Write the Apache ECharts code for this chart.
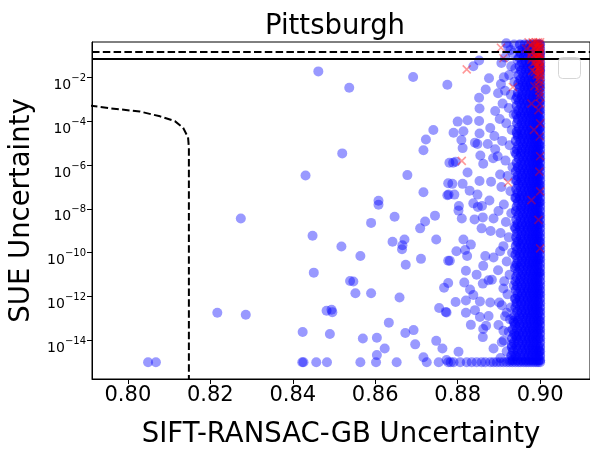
<!DOCTYPE html>
<html>
<head>
<meta charset="utf-8">
<script src="https://cdn.jsdelivr.net/npm/echarts@6/dist/echarts.min.js"></script>
<style>
  html, body { margin: 0; padding: 0; background: #fff; }
  #chart { width: 590px; height: 454px; }
</style>
</head>
<body>
<div id="chart"></div>
<script>
// y values are stored as log10(SUE uncertainty)
const xTicks = [0.80, 0.82, 0.84, 0.86, 0.88, 0.90];
const yTicks = [-14, -12, -10, -8, -6, -4, -2];

// scattered blue points, left and middle of the plot
const sparsePts = [
  [0.8049,-15.0],[0.8068,-15.0],[0.8217,-12.74],[0.8286,-12.83],[0.8274,-8.44],[0.8462,-1.73],
  [0.8537,-2.48],[0.8520,-5.47],[0.8431,-6.48],[0.8448,-9.23],[0.8518,-9.72],[0.8451,-10.91],
  [0.8539,-11.29],[0.8482,-12.65],[0.8494,-12.6],[0.8496,-12.71],[0.8424,-13.62],[0.8490,-13.71],
  [0.8423,-15.0],[0.8426,-15.0],[0.8457,-15.0],[0.8483,-15.0],
  [0.8692,-1.99],[0.8775,-2.34],[0.8741,-4.4],[0.8723,-4.84],[0.8717,-5.33],[0.8780,-5.9],
  [0.8678,-6.46],[0.8717,-7.24],[0.8777,-6.83],[0.8775,-7.38],[0.8608,-7.63],[0.8608,-7.81],
  [0.8647,-8.36],[0.8590,-8.64],[0.8721,-8.58],[0.8745,-8.31],[0.8709,-8.89],[0.8642,-9.5],
  [0.8671,-9.4],[0.8666,-9.66],[0.8665,-9.84],[0.8748,-9.4],[0.8564,-10.15],[0.8674,-10.55],
  [0.8711,-10.28],[0.8777,-10.37],[0.8547,-11.31],[0.8552,-11.85],[0.8590,-11.85],[0.8659,-12.04],
  [0.8767,-11.6],[0.8777,-11.38],[0.8755,-12.52],[0.8771,-12.7],[0.8773,-12.73],[0.8633,-13.19],
  [0.8570,-13.91],[0.8604,-13.88],[0.8673,-13.66],[0.8693,-13.53],[0.8623,-14.37],[0.8697,-14.18],
  [0.8748,-14.02],[0.8763,-14.37],[0.8604,-14.67],[0.8564,-15.0],[0.8602,-15.0],[0.8652,-15.0],
  [0.8717,-14.77],[0.8725,-15.0],[0.8754,-15.0],[0.8773,-14.89],[0.8777,-15.0]
];

// blue points just left of the dense band
const nearPts = [
  [0.8838,-1.5],[0.8852,-1.23],[0.8906,-1.35],[0.8930,-1.5],[0.8876,-2.04],[0.8868,-2.56],
  [0.8852,-2.93],[0.8853,-3.42],[0.8891,-3.54],[0.8905,-2.31],[0.8898,-2.73],[0.8915,-2.61],
  [0.8800,-4.02],[0.8824,-3.96],[0.8852,-3.99],[0.8879,-4.31],[0.8790,-4.53],[0.8814,-4.46],
  [0.8853,-4.56],[0.8809,-4.86],[0.8842,-4.98],[0.8848,-5.04],[0.8873,-5.04],[0.8812,-5.23],
  [0.8889,-4.68],[0.8891,-5.28],[0.8855,-5.57],[0.8789,-5.9],[0.8795,-5.85],[0.8862,-5.94],
  [0.8886,-5.69],[0.8824,-6.34],[0.8853,-6.73],[0.8787,-6.86],[0.8812,-6.86],[0.8881,-6.76],
  [0.8903,-6.43],[0.8778,-7.35],[0.8792,-7.35],[0.8829,-7.17],[0.8848,-7.35],[0.8877,-7.62],
  [0.8803,-7.87],[0.8838,-7.75],[0.8849,-7.91],[0.8859,-7.87],[0.8802,-8.08],[0.8810,-8.44],
  [0.8841,-8.48],[0.8861,-8.39],[0.8887,-8.44],[0.8858,-8.89],[0.8880,-9.01],[0.8814,-9.4],
  [0.8832,-9.63],[0.8797,-9.93],[0.8818,-9.88],[0.8781,-10.37],[0.8823,-10.15],[0.8867,-10.15],
  [0.8887,-10.22],[0.8903,-9.93],[0.8820,-10.82],[0.8846,-11.0],[0.8862,-10.6],[0.8861,-11.41],
  [0.8875,-11.26],[0.8883,-11.23],[0.8911,-11.63],[0.8816,-11.36],[0.8830,-11.68],[0.8838,-11.93],
  [0.8795,-12.25],[0.8820,-12.18],[0.8854,-12.22],[0.8879,-12.27],[0.8901,-12.27],[0.8820,-12.74],
  [0.8842,-12.62],[0.8854,-12.93],[0.8875,-12.89],[0.8919,-12.74],[0.8832,-13.29],[0.8862,-13.48],
  [0.8861,-13.85],[0.8869,-13.33],[0.8911,-13.56],[0.8927,-13.04],[0.8802,-14.52],[0.8887,-14.37],
  [0.8907,-14.08],
  [0.8922,-0.6],[0.8934,-0.9],[0.8915,-1.1],[0.8940,-1.6],[0.8925,-1.9],[0.8938,-2.2],[0.8912,-2.0],
  [0.8929,-2.8],[0.8941,-3.0],[0.8909,-3.2],[0.8924,-3.4],[0.8936,-3.7],[0.8902,-3.9],[0.8918,-4.1],
  [0.8931,-4.4],[0.8944,-4.6],[0.8908,-4.9],[0.8926,-5.1],[0.8939,-5.4],[0.8897,-5.6],[0.8916,-5.8],
  [0.8933,-6.1],[0.8921,-6.5],[0.8940,-6.7],[0.8906,-7.0],[0.8928,-7.2],[0.8942,-7.5],[0.8912,-7.8],
  [0.8899,-8.1],[0.8930,-8.2],[0.8917,-8.6],[0.8938,-8.8],[0.8904,-9.1],[0.8924,-9.3],[0.8943,-9.5],
  [0.8911,-9.7],[0.8932,-10.0],[0.8919,-10.4],[0.8940,-10.6],[0.8898,-10.8],[0.8926,-11.0],
  [0.8913,-11.3],[0.8936,-11.5],[0.8921,-11.9],[0.8941,-12.1],[0.8907,-12.4],[0.8929,-12.5],
  [0.8915,-12.9],[0.8937,-13.2],[0.8899,-13.3],[0.8924,-13.6],[0.8942,-13.8],[0.8912,-14.0],
  [0.8931,-14.2],[0.8919,-14.5],[0.8938,-14.7],[0.8904,-14.8],[0.8926,-14.9],
  [0.8918,-0.45],[0.8928,-0.75],[0.8937,-0.5],[0.8945,-1.2],[0.8950,-0.8]
];

// dense band next to 0.90, one row of x values per level
const bandLogY = [-0.32,-0.5,-0.71,-0.9,-1.1,-1.31,-1.5,-1.69,-1.9,-2.1,-2.3,-2.49,-2.7,
  -2.9,-3.1,-3.3,-3.51,-3.7,-3.9,-4.1,-4.3,-4.5,-4.7,-4.9,-5.1,-5.3,-5.5,-5.7,-5.9,-6.1,-6.3,
  -6.5,-6.7,-6.9,-7.1,-7.3,-7.5,-7.7,-7.9,-8.1,-8.3,-8.5,-8.7,-8.9,-9.1,-9.3,-9.5,-9.7,-9.9,
  -10.1,-10.3,-10.5,-10.7,-10.9,-11.1,-11.3,-11.5,-11.7,-11.9,-12.1,-12.3,-12.5,-12.7,-12.9,
  -13.1,-13.3,-13.5,-13.7,-13.9,-14.1,-14.3,-14.5,-14.7,-14.9];
const bandX = [
  [0.8955,0.8966,0.8975,0.8983,0.8990,0.8995,0.8999,0.9],
  [0.8951,0.8962,0.8972,0.8980,0.8987,0.8993,0.8998,0.9],
  [0.8957,0.8968,0.8977,0.8985,0.8991,0.8996,0.9],
  [0.8953,0.8963,0.8973,0.8981,0.8988,0.8994,0.8999,0.9],
  [0.8949,0.8960,0.8970,0.8979,0.8986,0.8992,0.8997,0.9],
  [0.8956,0.8966,0.8975,0.8983,0.8990,0.8995,0.9],
  [0.8950,0.8961,0.8971,0.8980,0.8987,0.8993,0.8998,0.9],
  [0.8954,0.8965,0.8974,0.8982,0.8989,0.8994,0.8999,0.9],
  [0.8948,0.8959,0.8969,0.8978,0.8986,0.8992,0.8997,0.9],
  [0.8952,0.8963,0.8972,0.8981,0.8988,0.8994,0.9],
  [0.8947,0.8958,0.8968,0.8977,0.8985,0.8991,0.8997,0.9],
  [0.8951,0.8962,0.8971,0.8979,0.8987,0.8993,0.8998,0.9],
  [0.8946,0.8957,0.8967,0.8976,0.8984,0.8991,0.8996,0.9],
  [0.8944,0.8955,0.8965,0.8974,0.8982,0.8989,0.8995,0.9],
  [0.8949,0.8960,0.8969,0.8978,0.8986,0.8992,0.8998,0.9],
  [0.8943,0.8954,0.8964,0.8973,0.8981,0.8988,0.8994,0.9],
  [0.8947,0.8958,0.8968,0.8977,0.8985,0.8991,0.8997,0.9],
  [0.8942,0.8953,0.8963,0.8972,0.8980,0.8987,0.8994,0.9],
  [0.8946,0.8957,0.8967,0.8976,0.8984,0.8991,0.8997,0.9],
  [0.8944,0.8955,0.8965,0.8974,0.8982,0.8989,0.8995,0.9],
  [0.8948,0.8959,0.8969,0.8978,0.8986,0.8992,0.8998,0.9],
  [0.8943,0.8954,0.8964,0.8973,0.8981,0.8988,0.8994,0.9],
  [0.8946,0.8957,0.8967,0.8976,0.8984,0.8990,0.8996,0.9],
  [0.8941,0.8952,0.8962,0.8971,0.8980,0.8987,0.8993,0.9],
  [0.8947,0.8958,0.8968,0.8977,0.8985,0.8991,0.8997,0.9],
  [0.8944,0.8955,0.8965,0.8974,0.8982,0.8989,0.8995,0.9],
  [0.8942,0.8953,0.8963,0.8972,0.8981,0.8988,0.8994,0.9],
  [0.8948,0.8959,0.8969,0.8978,0.8986,0.8992,0.8998,0.9],
  [0.8943,0.8954,0.8964,0.8973,0.8981,0.8988,0.8994,0.9],
  [0.8946,0.8957,0.8967,0.8976,0.8984,0.8991,0.8997,0.9],
  [0.8941,0.8952,0.8962,0.8971,0.8980,0.8987,0.8993,0.9],
  [0.8945,0.8956,0.8966,0.8975,0.8983,0.8990,0.8996,0.9],
  [0.8943,0.8954,0.8964,0.8973,0.8981,0.8988,0.8994,0.9],
  [0.8947,0.8958,0.8968,0.8977,0.8985,0.8991,0.8997,0.9],
  [0.8942,0.8953,0.8963,0.8972,0.8980,0.8987,0.8993,0.9],
  [0.8945,0.8956,0.8966,0.8975,0.8983,0.8990,0.8996,0.9],
  [0.8940,0.8951,0.8961,0.8970,0.8979,0.8986,0.8993,0.9],
  [0.8946,0.8957,0.8967,0.8976,0.8984,0.8991,0.8997,0.9],
  [0.8943,0.8954,0.8964,0.8973,0.8981,0.8988,0.8994,0.9],
  [0.8941,0.8952,0.8962,0.8971,0.8980,0.8987,0.8993,0.9],
  [0.8947,0.8958,0.8968,0.8977,0.8985,0.8991,0.8997,0.9],
  [0.8942,0.8953,0.8963,0.8972,0.8981,0.8988,0.8994,0.9],
  [0.8945,0.8956,0.8966,0.8975,0.8983,0.8990,0.8996,0.9],
  [0.8940,0.8951,0.8961,0.8970,0.8979,0.8986,0.8993,0.9],
  [0.8944,0.8955,0.8965,0.8974,0.8982,0.8989,0.8995,0.9],
  [0.8942,0.8953,0.8963,0.8972,0.8980,0.8987,0.8994,0.9],
  [0.8946,0.8957,0.8967,0.8976,0.8984,0.8991,0.8997,0.9],
  [0.8941,0.8952,0.8962,0.8971,0.8980,0.8987,0.8993,0.9],
  [0.8944,0.8955,0.8965,0.8974,0.8982,0.8989,0.8995,0.9],
  [0.8940,0.8951,0.8961,0.8970,0.8979,0.8986,0.8993,0.9],
  [0.8945,0.8956,0.8966,0.8975,0.8983,0.8990,0.8996,0.9],
  [0.8943,0.8954,0.8964,0.8973,0.8981,0.8988,0.8994,0.9],
  [0.8939,0.8950,0.8960,0.8970,0.8979,0.8986,0.8993,0.9],
  [0.8946,0.8957,0.8967,0.8976,0.8984,0.8991,0.8997,0.9],
  [0.8942,0.8953,0.8963,0.8972,0.8981,0.8988,0.8994,0.9],
  [0.8940,0.8951,0.8961,0.8971,0.8980,0.8987,0.8993,0.9],
  [0.8944,0.8955,0.8965,0.8974,0.8982,0.8989,0.8995,0.9],
  [0.8941,0.8952,0.8962,0.8971,0.8980,0.8987,0.8994,0.9],
  [0.8945,0.8956,0.8966,0.8975,0.8983,0.8990,0.8996,0.9],
  [0.8939,0.8950,0.8960,0.8970,0.8979,0.8986,0.8993,0.9],
  [0.8943,0.8954,0.8964,0.8973,0.8981,0.8988,0.8995,0.9],
  [0.8940,0.8951,0.8961,0.8971,0.8980,0.8987,0.8993,0.9],
  [0.8944,0.8955,0.8965,0.8974,0.8982,0.8989,0.8996,0.9],
  [0.8938,0.8949,0.8959,0.8969,0.8978,0.8986,0.8993,0.9],
  [0.8935,0.8946,0.8957,0.8967,0.8976,0.8984,0.8991,0.8997,0.9],
  [0.8939,0.8950,0.8960,0.8969,0.8978,0.8986,0.8993,0.9],
  [0.8933,0.8944,0.8955,0.8965,0.8974,0.8982,0.8990,0.8996,0.9],
  [0.8937,0.8948,0.8958,0.8968,0.8977,0.8985,0.8992,0.9],
  [0.8932,0.8943,0.8954,0.8964,0.8973,0.8981,0.8989,0.8996,0.9],
  [0.8936,0.8947,0.8957,0.8967,0.8976,0.8984,0.8991,0.9],
  [0.8931,0.8942,0.8953,0.8963,0.8972,0.8981,0.8988,0.8995,0.9],
  [0.8934,0.8945,0.8956,0.8966,0.8975,0.8983,0.8990,0.8997,0.9],
  [0.8930,0.8941,0.8952,0.8962,0.8972,0.8980,0.8988,0.8995,0.9],
  [0.8933,0.8944,0.8955,0.8965,0.8974,0.8982,0.8990,0.8996,0.9]
];

// floor row at 1e-15
const floorLogY = -15.0;
const floorX = [0.8783,0.8790,0.8806,0.8822,0.8834,0.8846,0.8858,0.8867,0.8879,0.8887,0.8895,
  0.8903,0.8911,0.8919,0.8926,0.8933,0.8940,0.8947,0.8953,0.8960,0.8966,0.8972,0.8978,0.8984,
  0.8990,0.8995,0.9];

// red crosses
const redPts = [
  [0.9,-0.4],[0.9,-0.6],[0.9,-0.8],[0.9,-1.0],[0.9,-1.2],[0.9,-1.4],[0.9,-1.6],[0.9,-1.8],
  [0.9,-2.0],[0.9,-2.3],[0.8997,-0.5],[0.8996,-0.9],[0.8995,-1.3],[0.8997,-1.7],[0.8994,-2.1],
  [0.8992,-0.45],[0.8991,-0.75],[0.8990,-1.1],[0.8989,-1.5],[0.8992,-1.9],[0.8987,-0.6],
  [0.8985,-1.0],[0.8984,-1.35],[0.8986,-2.4],[0.8982,-0.4],[0.8980,-0.85],[0.8979,-1.2],
  [0.8981,-1.7],[0.8977,-0.55],[0.8975,-1.0],[0.8998,-2.6],[0.8999,-2.9],[0.9,-3.2],
  [0.8996,-3.5],[0.9,-4.1],[0.8999,-4.7],[0.9,-5.6],[0.8998,-6.3],[0.8979,-3.2],[0.8934,-2.44],
  [0.8810,-5.81],[0.8979,-7.6],[0.8922,-6.8],[0.8822,-1.64],[0.8905,-0.65],[0.8911,-1.13],
  [0.8972,-0.4],[0.8966,-0.7],[0.9,-7.2],[0.8996,-8.5],[0.9,-9.8],[0.8985,-4.4],
  [0.9,-0.5],[0.9,-0.7],[0.9,-0.9],[0.9,-1.1],[0.9,-1.3],[0.9,-1.5],[0.9,-1.7],[0.9,-1.9],
  [0.8998,-0.35],[0.8998,-0.65],[0.8998,-0.95],[0.8998,-1.25],[0.8998,-1.55],[0.8998,-1.85],
  [0.8995,-0.4],[0.8995,-0.7],[0.8995,-1.0],[0.8995,-1.6],[0.8993,-0.55],[0.8993,-1.15],
  [0.8993,-1.45],[0.8990,-0.4],[0.8990,-0.9],[0.8988,-1.3],[0.8987,-1.75],[0.8984,-0.7],
  [0.8983,-0.45],[0.8981,-1.1],[0.9,-2.15],[0.8997,-2.45],[0.9,-2.75]
];

// dashed boundary curve and the two horizontal thresholds
const curveX = [0.7908,0.7956,0.8029,0.8078,0.8114,0.8134,0.8146,0.8148,0.8148];
const curveLogY = [-3.29,-3.41,-3.56,-3.78,-4.0,-4.3,-4.74,-5.2,-16.5];
const dashedLevel = -0.82;
const solidLevel = -1.14;

const font = 'DejaVu Sans';
const blue = { color: '#0000ff', opacity: 0.4 };

let bandPts = [];
bandLogY.forEach(function (ly, i) {
  bandX[i].forEach(function (x) { bandPts.push([x, ly]); });
});
let floorPts = floorX.map(function (x) { return [x, floorLogY]; });
let curvePts = curveX.map(function (x, i) { return [x, curveLogY[i]]; });

let chart = echarts.init(document.getElementById('chart'));
let option = {
  animation: false,
  title: {
    text: 'Pittsburgh',
    left: 330,
    top: 8,
    textAlign: 'center',
    textStyle: { fontFamily: font, fontSize: 27.5, fontWeight: 'normal', color: '#000' }
  },
  grid: {
    left: 92, top: 42, right: 0, bottom: 66,
    show: true, borderColor: '#000', borderWidth: 1, backgroundColor: 'transparent'
  },
  xAxis: {
    type: 'value',
    min: 0.7913,
    max: 0.9121,
    name: 'SIFT-RANSAC-GB Uncertainty',
    nameLocation: 'middle',
    nameGap: 42,
    nameTextStyle: { fontFamily: font, fontSize: 27.5, color: '#000' },
    axisLine: { show: true, onZero: false, lineStyle: { color: '#000', width: 1 } },
    axisTick: { show: true, customValues: xTicks, length: 5, lineStyle: { color: '#000' } },
    axisLabel: {
      customValues: xTicks,
      margin: 6,
      fontFamily: font, fontSize: 21, color: '#000',
      formatter: function (v) { return v.toFixed(2); }
    },
    splitLine: { show: false }
  },
  yAxis: {
    type: 'value',
    min: -15.76,
    max: -0.39,
    name: 'SUE Uncertainty',
    nameLocation: 'middle',
    nameGap: 48,
    nameTextStyle: { fontFamily: font, fontSize: 27.5, color: '#000' },
    axisLine: { show: true, onZero: false, lineStyle: { color: '#000', width: 1 } },
    axisTick: { show: true, customValues: yTicks, length: 5, lineStyle: { color: '#000' } },
    axisLabel: {
      customValues: yTicks,
      margin: 6,
      formatter: function (v) { return '{b|10}{s|\u2212' + Math.abs(v) + '}'; },
      rich: {
        b: { fontFamily: font, fontSize: 14, lineHeight: 14, color: '#000', padding: [8, 0, 0, 0], verticalAlign: 'top' },
        s: { fontFamily: font, fontSize: 10, lineHeight: 10, color: '#000', padding: [3, 0, 0, 0], verticalAlign: 'top' }
      }
    },
    splitLine: { show: false }
  },
  series: [
    { type: 'scatter', data: sparsePts, symbolSize: 10, itemStyle: blue, progressive: 0 },
    { type: 'scatter', data: nearPts, symbolSize: 10, itemStyle: blue, progressive: 0 },
    { type: 'scatter', data: bandPts, symbolSize: 10, itemStyle: { color: '#0000ff', opacity: 0.55 }, progressive: 0 },
    { type: 'scatter', data: floorPts, symbolSize: 10, itemStyle: blue, progressive: 0 },
    {
      type: 'scatter', data: redPts, symbolSize: 8, progressive: 0,
      symbol: 'path://M0,0L10,10M10,0L0,10',
      itemStyle: { color: 'rgba(0,0,0,0)', borderColor: '#ff0000', borderWidth: 1.6, opacity: 0.4 }
    },
    {
      type: 'line', data: curvePts, showSymbol: false, symbol: 'none',
      lineStyle: { color: '#000', width: 2, type: [7.5, 3.3] },
      markLine: {
        silent: true, symbol: 'none', label: { show: false },
        data: [
          { yAxis: dashedLevel, lineStyle: { color: '#000', width: 2, type: [7.5, 3.3] } },
          { yAxis: solidLevel, lineStyle: { color: '#000', width: 2, type: 'solid' } }
        ]
      }
    }
  ],
  graphic: [
    {
      type: 'rect', left: 558, top: 57, z: 100,
      shape: { width: 22, height: 21, r: 4 },
      style: { fill: 'rgba(255,255,255,0.8)', stroke: '#d6d6d6', lineWidth: 1 }
    }
  ]
};
chart.setOption(option);
</script>
</body>
</html>
